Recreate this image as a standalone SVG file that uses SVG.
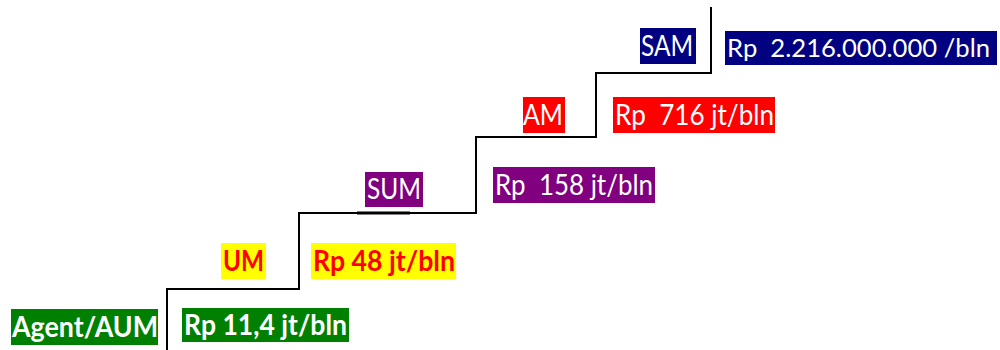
<svg xmlns="http://www.w3.org/2000/svg" width="1000" height="350" viewBox="0 0 1000 350" xml:space="preserve">
<style>
.t{font-family:Lato,"Open Sans","Liberation Sans",sans-serif;font-size:28px;fill:#fff;white-space:pre}
.b{font-weight:bold}
.r{fill:#ff0000}
.step{fill:none;stroke:#000;stroke-width:2}
</style>
<rect width="1000" height="350" fill="#fff"/>
<g id="connectors">
<path class="step" d="M167,350 V289 H299 V213 H476 V137 H596 V73 H711 V7"/>
<path d="M357,213 H410" stroke="#000" stroke-width="3"/>
</g>
<g id="agent"><rect x="11" y="309" width="147" height="36" fill="#008000"/><text class="t b" x="12" y="337" textLength="146" lengthAdjust="spacingAndGlyphs">Agent/AUM</text></g>
<g id="agent-val"><rect x="182" y="308" width="167" height="34" fill="#008000"/><text class="t b" x="184" y="335" textLength="163" lengthAdjust="spacingAndGlyphs">Rp 11,4 jt/bln</text></g>
<g id="um"><rect x="221" y="243" width="45" height="36" fill="#ffff00"/><text class="t b r" x="223" y="271" textLength="41" lengthAdjust="spacingAndGlyphs">UM</text></g>
<g id="um-val"><rect x="311" y="243" width="145" height="36" fill="#ffff00"/><text class="t b r" x="313" y="271" textLength="142" lengthAdjust="spacingAndGlyphs">Rp 48 jt/bln</text></g>
<g id="sum"><rect x="365" y="172" width="58" height="35" fill="#800080"/><text class="t" x="367" y="199" textLength="54" lengthAdjust="spacingAndGlyphs">SUM</text></g>
<g id="sum-val"><rect x="493" y="167" width="162" height="36" fill="#800080"/><text class="t" x="495" y="195" textLength="158" lengthAdjust="spacingAndGlyphs">Rp  158 jt/bln</text></g>
<g id="am"><rect x="523" y="97" width="42" height="36" fill="#ff0000"/><text class="t" x="523" y="125" textLength="40" lengthAdjust="spacingAndGlyphs">AM</text></g>
<g id="am-val"><rect x="613" y="97" width="162" height="36" fill="#ff0000"/><text class="t" x="615" y="125" textLength="159" lengthAdjust="spacingAndGlyphs">Rp  716 jt/bln</text></g>
<g id="sam"><rect x="640" y="28" width="56" height="36" fill="#000080"/><text class="t" x="641" y="56" textLength="52" lengthAdjust="spacingAndGlyphs">SAM</text></g>
<g id="sam-val"><rect x="725" y="31" width="272" height="34" fill="#000080"/><text class="t" style="font-size:25px" x="727" y="57" textLength="263" lengthAdjust="spacingAndGlyphs">Rp  2.216.000.000 /bln</text></g>
</svg>
